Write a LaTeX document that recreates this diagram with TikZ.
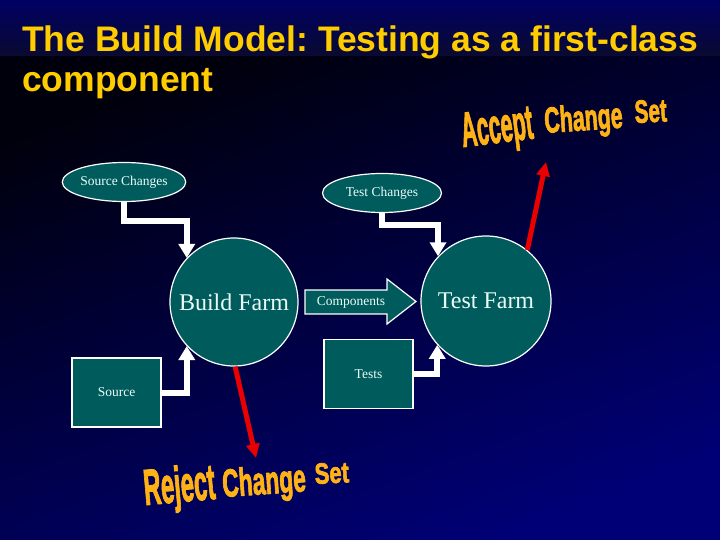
\documentclass[tikz,border=0pt]{standalone}
\usepackage{fontspec}
\setmainfont{Liberation Serif}
\newfontfamily\arialf{Liberation Sans}
\newfontfamily\wafont{Liberation Sans}[BoldFeatures={FakeBold=2.5}]
\usetikzlibrary{arrows.meta,shapes.geometric}
\definecolor{tealfill}{RGB}{0,92,92}
\definecolor{titlegold}{RGB}{255,204,0}
\definecolor{ntext}{RGB}{235,252,248}
\definecolor{bgA}{RGB}{0,0,100}
\definecolor{bgB}{RGB}{10,10,48}
\definecolor{bgC}{RGB}{0,0,12}
\definecolor{bgD}{RGB}{0,0,118}
\definecolor{wordartcol}{RGB}{255,178,22}
\definecolor{arrred}{RGB}{235,0,0}
\frenchspacing
\begin{document}
\begin{tikzpicture}[x=1pt,y=-1pt,
  shapebox/.style={fill=tealfill, draw=white, line width=1.2pt, text=ntext, inner sep=0pt},
  smalltext/.style={font=\fontsize{13.5}{16}\selectfont},
  bigtext/.style={font=\fontsize{24}{28}\selectfont},
  farm/.style={shapebox, circle, minimum size=128pt, bigtext},
  oval/.style={shapebox, ellipse, minimum width=118pt, minimum height=39pt, smalltext},
  rectbox/.style={shapebox, rectangle, minimum width=89pt, minimum height=69pt, smalltext},
  feed/.style={draw=white, line width=6pt, line join=miter, -{Triangle[width=16pt,length=14pt]}},
  verdict/.style={draw=arrred, line width=5pt, -{Triangle[width=13pt,length=14pt]}},
  wordart/.style={text=wordartcol, inner sep=0pt, anchor=base west},
  titletext/.style={text=titlegold, inner sep=0pt, anchor=base west, font=\arialf\bfseries\fontsize{35.5}{40}\selectfont},
]
\useasboundingbox (0,0) rectangle (720,540);
% background
\shade[top color=bgA, bottom color=bgB] (0,0) rectangle (720,57);
\shade[top color=bgC, bottom color=bgD, shading angle=20] (0,57) rectangle (720,540);

% title
\node[titletext] (t1) at (22,52) {The Build Model: Testing as a first-class};
\node[titletext] (t2) at (22,92) {component};

% main nodes
\node[farm] (bf) at (234,302) {Build Farm};
\node[farm, minimum size=130pt] (tf) at (486,301) {Test Farm};
\node[oval] (sc) at (124,182) {Source Changes};
\node[oval, minimum width=119pt] (tc) at (382,193) {Test Changes};
\node[rectbox] (src) at (116.5,392.5) {Source};
\node[rectbox] (tests) at (368.5,374) {Tests};

% components arrow
\draw[shapebox] (305,290) -- (387,290) -- (387,279) -- (416,301.5) -- (387,324) -- (387,314) -- (305,314) -- cycle;
\node[text=ntext, smalltext] (comp) at (351,302) {Components};

% feed connectors
\draw[feed] (sc.south) -- ++(0,18.5) -| (bf.137);
\draw[feed] (tc.south) -- ++(0,12) -| (tf.137.5);
\draw[feed] (src.east) -| (bf.223);
\draw[feed] (tests.east) -| (tf.222.5);

% verdict arrows
\coordinate (acc) at (546,162);
\coordinate (rej) at (256,458);
\draw[verdict] (tf.51) -- (acc);
\draw[verdict] (bf.271) -- (rej);

% word art
\node[wordart, font=\wafont\bfseries\fontsize{28}{30}\selectfont, rotate=7, xscale=0.77, yscale=1.75] (a1) at (463,147) {Accept};
\node[wordart, font=\wafont\bfseries\fontsize{24}{26}\selectfont, rotate=4, xscale=0.89, yscale=1.51] (a2) at (545,133) {Change};
\node[wordart, font=\wafont\bfseries\fontsize{22}{24}\selectfont, rotate=3, xscale=0.94, yscale=1.46] (a3) at (635,123) {Set};

\node[wordart, font=\wafont\bfseries\fontsize{28}{30}\selectfont, rotate=5, xscale=0.85, yscale=1.80] (r1) at (145,505) {Reject};
\node[wordart, font=\wafont\bfseries\fontsize{24}{26}\selectfont, rotate=4, xscale=0.95, yscale=1.63] (r2) at (223,497) {Change};
\node[wordart, font=\wafont\bfseries\fontsize{22}{24}\selectfont, rotate=3, xscale=1.0, yscale=1.33] (r3) at (315,484) {Set};
\end{tikzpicture}
\end{document}
